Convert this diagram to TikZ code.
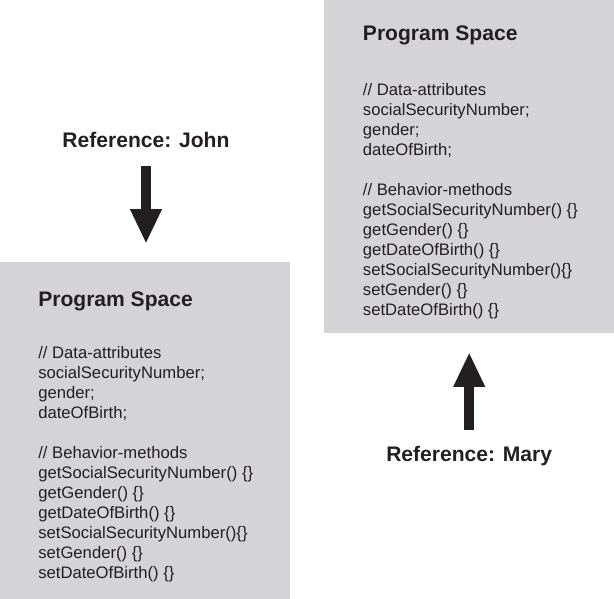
\documentclass[tikz,border=0pt]{standalone}
\usepackage{fontspec}
\setmainfont{Liberation Sans}
\usetikzlibrary{arrows.meta}
\definecolor{spacegray}{RGB}{212,212,214}
\definecolor{inkblack}{RGB}{35,31,32}
\newcommand{\programspacecode}{%
// Data-attributes\\
socialSecurityNumber;\\
gender;\\
dateOfBirth;\\[15pt]
// Behavior-methods\\
getSocialSecurityNumber() \{\}\\
getGender() \{\}\\
getDateOfBirth() \{\}\\
setSocialSecurityNumber()\{\}\\
setGender() \{\}\\
setDateOfBirth() \{\}}
\begin{document}
\begin{tikzpicture}[x=0.75pt,y=0.75pt,yscale=-1,xscale=1,
    spacebox/.style={fill=spacegray,draw=none,inner sep=0pt,minimum width=217.5pt},
    boldlabel/.style={inner sep=0pt,text=inkblack,font=\fontsize{15.8}{19}\selectfont\bfseries},
    codetext/.style={inner sep=0pt,text=inkblack,align=left,font=\fontsize{12.5}{15}\selectfont},
    refarrow/.style={draw=inkblack,line width=7.5pt,-{Triangle[length=26pt,width=22pt]}}]
    \useasboundingbox (0,0) rectangle (614,599);

    %Shape: Rectangle, program space of John
    \node [spacebox,minimum height=252.75pt] (leftbox) at (145,430.5) {};
    %Shape: Rectangle, program space of Mary
    \node [spacebox,minimum height=249.75pt] (rightbox) at (469,166.5) {};

    % Text Node
    \node [boldlabel,anchor=base] (john) at (146,147.3) {Reference: John};
    % Text Node
    \node [boldlabel,anchor=base] (mary) at (469.2,461.7) {Reference: Mary};
    % Text Node
    \node [boldlabel,anchor=base west] (lefttitle) at (38,306) {Program Space};
    % Text Node
    \node [boldlabel,anchor=base west] (righttitle) at (362.7,40.5) {Program Space};
    % Text Node
    \node [codetext,anchor=north west] (leftcode) at (38,346.5) {\programspacecode};
    % Text Node
    \node [codetext,anchor=north west] (rightcode) at (362.7,83.4) {\programspacecode};

    %Straight Lines, reference arrows
    \draw [refarrow,shorten <=14pt,shorten >=13.5pt] (john.south) -- (john.south |- leftbox.north);
    \draw [refarrow,shorten <=12.3pt,shorten >=14.25pt] (mary.north) -- (mary.north |- rightbox.south);
\end{tikzpicture}
\end{document}
